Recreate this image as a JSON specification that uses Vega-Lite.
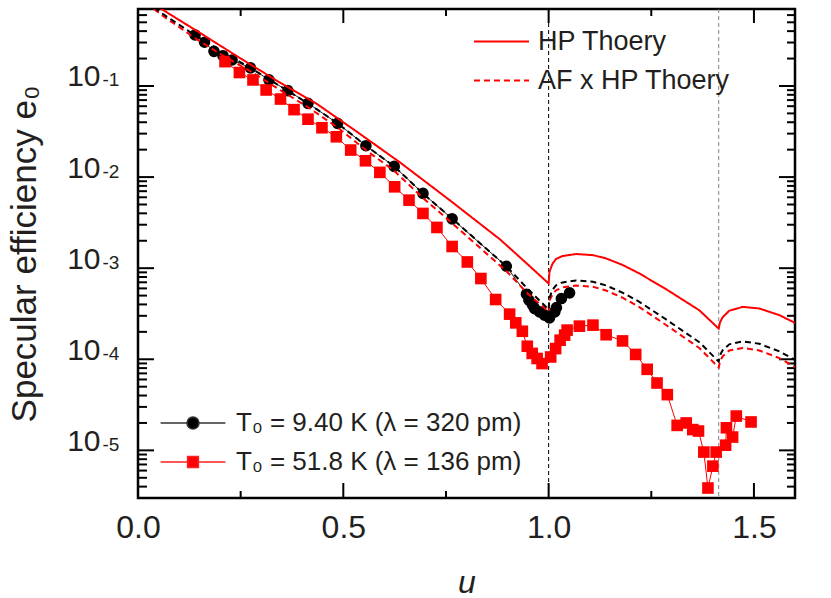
{
  "$schema": "https://vega.github.io/schema/vega-lite/v6.json",
  "width": 657,
  "height": 489,
  "autosize": {"type": "none"},
  "padding": {"left": 138, "top": 9, "right": 36, "bottom": 100},
  "background": "white",
  "config": {
    "view": {"stroke": "black", "strokeWidth": 2.5},
    "axis": {
      "domain": false,
      "grid": false,
      "ticks": false,
      "labelFont": "Liberation Sans",
      "labelColor": "#231f20",
      "titleFont": "Liberation Sans",
      "titleFontWeight": "normal",
      "titleColor": "#231f20"
    },
    "legend": {
      "labelFont": "Liberation Sans",
      "labelColor": "#231f20",
      "labelLimit": 500
    }
  },
  "datasets": {
    "theory": [
      {"u": 0, "e": 1.0, "curve": "HP", "kind": "HP Thoery"},
      {"u": 0.0567, "e": 0.702, "curve": "HP", "kind": "HP Thoery"},
      {"u": 0.15, "e": 0.385, "curve": "HP", "kind": "HP Thoery"},
      {"u": 0.248, "e": 0.203, "curve": "HP", "kind": "HP Thoery"},
      {"u": 0.34, "e": 0.113, "curve": "HP", "kind": "HP Thoery"},
      {"u": 0.438, "e": 0.0625, "curve": "HP", "kind": "HP Thoery"},
      {"u": 0.54, "e": 0.0299, "curve": "HP", "kind": "HP Thoery"},
      {"u": 0.637, "e": 0.0146, "curve": "HP", "kind": "HP Thoery"},
      {"u": 0.759, "e": 0.00558, "curve": "HP", "kind": "HP Thoery"},
      {"u": 0.881, "e": 0.00208, "curve": "HP", "kind": "HP Thoery"},
      {"u": 0.94, "e": 0.0012, "curve": "HP", "kind": "HP Thoery"},
      {"u": 1.0, "e": 0.000679, "curve": "HP", "kind": "HP Thoery"},
      {"u": 1.002, "e": 0.000904, "curve": "HP", "kind": "HP Thoery"},
      {"u": 1.006, "e": 0.00102, "curve": "HP", "kind": "HP Thoery"},
      {"u": 1.01, "e": 0.00113, "curve": "HP", "kind": "HP Thoery"},
      {"u": 1.018, "e": 0.00126, "curve": "HP", "kind": "HP Thoery"},
      {"u": 1.034, "e": 0.00136, "curve": "HP", "kind": "HP Thoery"},
      {"u": 1.067, "e": 0.00143, "curve": "HP", "kind": "HP Thoery"},
      {"u": 1.108, "e": 0.00139, "curve": "HP", "kind": "HP Thoery"},
      {"u": 1.14, "e": 0.00128, "curve": "HP", "kind": "HP Thoery"},
      {"u": 1.181, "e": 0.00108, "curve": "HP", "kind": "HP Thoery"},
      {"u": 1.221, "e": 0.000875, "curve": "HP", "kind": "HP Thoery"},
      {"u": 1.286, "e": 0.000588, "curve": "HP", "kind": "HP Thoery"},
      {"u": 1.367, "e": 0.000345, "curve": "HP", "kind": "HP Thoery"},
      {"u": 1.4142, "e": 0.000217, "curve": "HP", "kind": "HP Thoery"},
      {"u": 1.4174, "e": 0.000255, "curve": "HP", "kind": "HP Thoery"},
      {"u": 1.424, "e": 0.00029, "curve": "HP", "kind": "HP Thoery"},
      {"u": 1.44, "e": 0.000341, "curve": "HP", "kind": "HP Thoery"},
      {"u": 1.473, "e": 0.000376, "curve": "HP", "kind": "HP Thoery"},
      {"u": 1.513, "e": 0.000361, "curve": "HP", "kind": "HP Thoery"},
      {"u": 1.562, "e": 0.000305, "curve": "HP", "kind": "HP Thoery"},
      {"u": 1.6, "e": 0.000251, "curve": "HP", "kind": "HP Thoery"},

      {"u": 0, "e": 0.98, "curve": "AF94", "kind": "AF x HP Thoery"},
      {"u": 0.06, "e": 0.62, "curve": "AF94", "kind": "AF x HP Thoery"},
      {"u": 0.139, "e": 0.36, "curve": "AF94", "kind": "AF x HP Thoery"},
      {"u": 0.2, "e": 0.245, "curve": "AF94", "kind": "AF x HP Thoery"},
      {"u": 0.274, "e": 0.158, "curve": "AF94", "kind": "AF x HP Thoery"},
      {"u": 0.35, "e": 0.097, "curve": "AF94", "kind": "AF x HP Thoery"},
      {"u": 0.414, "e": 0.0645, "curve": "AF94", "kind": "AF x HP Thoery"},
      {"u": 0.486, "e": 0.0389, "curve": "AF94", "kind": "AF x HP Thoery"},
      {"u": 0.555, "e": 0.0221, "curve": "AF94", "kind": "AF x HP Thoery"},
      {"u": 0.624, "e": 0.0131, "curve": "AF94", "kind": "AF x HP Thoery"},
      {"u": 0.694, "e": 0.0066, "curve": "AF94", "kind": "AF x HP Thoery"},
      {"u": 0.765, "e": 0.0035, "curve": "AF94", "kind": "AF x HP Thoery"},
      {"u": 0.83, "e": 0.00193, "curve": "AF94", "kind": "AF x HP Thoery"},
      {"u": 0.897, "e": 0.00105, "curve": "AF94", "kind": "AF x HP Thoery"},
      {"u": 0.95, "e": 0.000587, "curve": "AF94", "kind": "AF x HP Thoery"},
      {"u": 1.0, "e": 0.000352, "curve": "AF94", "kind": "AF x HP Thoery"},
      {"u": 1.002, "e": 0.000468, "curve": "AF94", "kind": "AF x HP Thoery"},
      {"u": 1.006, "e": 0.000528, "curve": "AF94", "kind": "AF x HP Thoery"},
      {"u": 1.01, "e": 0.000583, "curve": "AF94", "kind": "AF x HP Thoery"},
      {"u": 1.018, "e": 0.000649, "curve": "AF94", "kind": "AF x HP Thoery"},
      {"u": 1.034, "e": 0.000698, "curve": "AF94", "kind": "AF x HP Thoery"},
      {"u": 1.067, "e": 0.000733, "curve": "AF94", "kind": "AF x HP Thoery"},
      {"u": 1.108, "e": 0.00071, "curve": "AF94", "kind": "AF x HP Thoery"},
      {"u": 1.14, "e": 0.000646, "curve": "AF94", "kind": "AF x HP Thoery"},
      {"u": 1.181, "e": 0.000536, "curve": "AF94", "kind": "AF x HP Thoery"},
      {"u": 1.221, "e": 0.000427, "curve": "AF94", "kind": "AF x HP Thoery"},
      {"u": 1.286, "e": 0.000274, "curve": "AF94", "kind": "AF x HP Thoery"},
      {"u": 1.367, "e": 0.000154, "curve": "AF94", "kind": "AF x HP Thoery"},
      {"u": 1.4142, "e": 0.0000944, "curve": "AF94", "kind": "AF x HP Thoery"},
      {"u": 1.4174, "e": 0.000111, "curve": "AF94", "kind": "AF x HP Thoery"},
      {"u": 1.424, "e": 0.000126, "curve": "AF94", "kind": "AF x HP Thoery"},
      {"u": 1.44, "e": 0.000146, "curve": "AF94", "kind": "AF x HP Thoery"},
      {"u": 1.473, "e": 0.000157, "curve": "AF94", "kind": "AF x HP Thoery"},
      {"u": 1.513, "e": 0.000148, "curve": "AF94", "kind": "AF x HP Thoery"},
      {"u": 1.562, "e": 0.000122, "curve": "AF94", "kind": "AF x HP Thoery"},
      {"u": 1.6, "e": 0.0000982, "curve": "AF94", "kind": "AF x HP Thoery"},

      {"u": 0, "e": 0.95, "curve": "AF51", "kind": "AF x HP Thoery"},
      {"u": 0.06, "e": 0.59, "curve": "AF51", "kind": "AF x HP Thoery"},
      {"u": 0.139, "e": 0.335, "curve": "AF51", "kind": "AF x HP Thoery"},
      {"u": 0.2, "e": 0.225, "curve": "AF51", "kind": "AF x HP Thoery"},
      {"u": 0.274, "e": 0.145, "curve": "AF51", "kind": "AF x HP Thoery"},
      {"u": 0.35, "e": 0.088, "curve": "AF51", "kind": "AF x HP Thoery"},
      {"u": 0.414, "e": 0.0585, "curve": "AF51", "kind": "AF x HP Thoery"},
      {"u": 0.486, "e": 0.035, "curve": "AF51", "kind": "AF x HP Thoery"},
      {"u": 0.555, "e": 0.0198, "curve": "AF51", "kind": "AF x HP Thoery"},
      {"u": 0.624, "e": 0.0117, "curve": "AF51", "kind": "AF x HP Thoery"},
      {"u": 0.694, "e": 0.0059, "curve": "AF51", "kind": "AF x HP Thoery"},
      {"u": 0.765, "e": 0.00312, "curve": "AF51", "kind": "AF x HP Thoery"},
      {"u": 0.83, "e": 0.00172, "curve": "AF51", "kind": "AF x HP Thoery"},
      {"u": 0.897, "e": 0.00093, "curve": "AF51", "kind": "AF x HP Thoery"},
      {"u": 0.95, "e": 0.00052, "curve": "AF51", "kind": "AF x HP Thoery"},
      {"u": 1.0, "e": 0.000334, "curve": "AF51", "kind": "AF x HP Thoery"},
      {"u": 1.002, "e": 0.000439, "curve": "AF51", "kind": "AF x HP Thoery"},
      {"u": 1.006, "e": 0.000478, "curve": "AF51", "kind": "AF x HP Thoery"},
      {"u": 1.01, "e": 0.000518, "curve": "AF51", "kind": "AF x HP Thoery"},
      {"u": 1.018, "e": 0.000573, "curve": "AF51", "kind": "AF x HP Thoery"},
      {"u": 1.034, "e": 0.000615, "curve": "AF51", "kind": "AF x HP Thoery"},
      {"u": 1.067, "e": 0.000646, "curve": "AF51", "kind": "AF x HP Thoery"},
      {"u": 1.108, "e": 0.000625, "curve": "AF51", "kind": "AF x HP Thoery"},
      {"u": 1.14, "e": 0.000569, "curve": "AF51", "kind": "AF x HP Thoery"},
      {"u": 1.181, "e": 0.000472, "curve": "AF51", "kind": "AF x HP Thoery"},
      {"u": 1.221, "e": 0.000374, "curve": "AF51", "kind": "AF x HP Thoery"},
      {"u": 1.286, "e": 0.000238, "curve": "AF51", "kind": "AF x HP Thoery"},
      {"u": 1.367, "e": 0.000133, "curve": "AF51", "kind": "AF x HP Thoery"},
      {"u": 1.4142, "e": 0.0000811, "curve": "AF51", "kind": "AF x HP Thoery"},
      {"u": 1.4174, "e": 0.0000951, "curve": "AF51", "kind": "AF x HP Thoery"},
      {"u": 1.424, "e": 0.000108, "curve": "AF51", "kind": "AF x HP Thoery"},
      {"u": 1.44, "e": 0.000125, "curve": "AF51", "kind": "AF x HP Thoery"},
      {"u": 1.473, "e": 0.000133, "curve": "AF51", "kind": "AF x HP Thoery"},
      {"u": 1.513, "e": 0.000125, "curve": "AF51", "kind": "AF x HP Thoery"},
      {"u": 1.562, "e": 0.000103, "curve": "AF51", "kind": "AF x HP Thoery"},
      {"u": 1.6, "e": 0.0000822, "curve": "AF51", "kind": "AF x HP Thoery"}
    ],
    "exp": [
      {"u": 0.139, "e": 0.363, "series": "T₀ = 9.40 K (λ = 320 pm)"},
      {"u": 0.162, "e": 0.302, "series": "T₀ = 9.40 K (λ = 320 pm)"},
      {"u": 0.185, "e": 0.240, "series": "T₀ = 9.40 K (λ = 320 pm)"},
      {"u": 0.207, "e": 0.215, "series": "T₀ = 9.40 K (λ = 320 pm)"},
      {"u": 0.229, "e": 0.193, "series": "T₀ = 9.40 K (λ = 320 pm)"},
      {"u": 0.274, "e": 0.158, "series": "T₀ = 9.40 K (λ = 320 pm)"},
      {"u": 0.319, "e": 0.117, "series": "T₀ = 9.40 K (λ = 320 pm)"},
      {"u": 0.365, "e": 0.0888, "series": "T₀ = 9.40 K (λ = 320 pm)"},
      {"u": 0.414, "e": 0.0645, "series": "T₀ = 9.40 K (λ = 320 pm)"},
      {"u": 0.486, "e": 0.0389, "series": "T₀ = 9.40 K (λ = 320 pm)"},
      {"u": 0.555, "e": 0.0221, "series": "T₀ = 9.40 K (λ = 320 pm)"},
      {"u": 0.624, "e": 0.0131, "series": "T₀ = 9.40 K (λ = 320 pm)"},
      {"u": 0.694, "e": 0.00662, "series": "T₀ = 9.40 K (λ = 320 pm)"},
      {"u": 0.765, "e": 0.00348, "series": "T₀ = 9.40 K (λ = 320 pm)"},
      {"u": 0.897, "e": 0.00105, "series": "T₀ = 9.40 K (λ = 320 pm)"},
      {"u": 0.946, "e": 0.000518, "series": "T₀ = 9.40 K (λ = 320 pm)"},
      {"u": 0.952, "e": 0.000445, "series": "T₀ = 9.40 K (λ = 320 pm)"},
      {"u": 0.961, "e": 0.000392, "series": "T₀ = 9.40 K (λ = 320 pm)"},
      {"u": 0.966, "e": 0.00036, "series": "T₀ = 9.40 K (λ = 320 pm)"},
      {"u": 0.978, "e": 0.000331, "series": "T₀ = 9.40 K (λ = 320 pm)"},
      {"u": 0.99, "e": 0.000305, "series": "T₀ = 9.40 K (λ = 320 pm)"},
      {"u": 1.002, "e": 0.000284, "series": "T₀ = 9.40 K (λ = 320 pm)"},
      {"u": 1.015, "e": 0.000331, "series": "T₀ = 9.40 K (λ = 320 pm)"},
      {"u": 1.019, "e": 0.00037, "series": "T₀ = 9.40 K (λ = 320 pm)"},
      {"u": 1.031, "e": 0.000464, "series": "T₀ = 9.40 K (λ = 320 pm)"},
      {"u": 1.051, "e": 0.000536, "series": "T₀ = 9.40 K (λ = 320 pm)"},

      {"u": 0.212, "e": 0.185, "series": "T₀ = 51.8 K (λ = 136 pm)"},
      {"u": 0.247, "e": 0.1406, "series": "T₀ = 51.8 K (λ = 136 pm)"},
      {"u": 0.28, "e": 0.1165, "series": "T₀ = 51.8 K (λ = 136 pm)"},
      {"u": 0.312, "e": 0.0904, "series": "T₀ = 51.8 K (λ = 136 pm)"},
      {"u": 0.347, "e": 0.0719, "series": "T₀ = 51.8 K (λ = 136 pm)"},
      {"u": 0.38, "e": 0.055, "series": "T₀ = 51.8 K (λ = 136 pm)"},
      {"u": 0.414, "e": 0.0432, "series": "T₀ = 51.8 K (λ = 136 pm)"},
      {"u": 0.448, "e": 0.0348, "series": "T₀ = 51.8 K (λ = 136 pm)"},
      {"u": 0.483, "e": 0.0277, "series": "T₀ = 51.8 K (λ = 136 pm)"},
      {"u": 0.518, "e": 0.0198, "series": "T₀ = 51.8 K (λ = 136 pm)"},
      {"u": 0.554, "e": 0.0151, "series": "T₀ = 51.8 K (λ = 136 pm)"},
      {"u": 0.589, "e": 0.01127, "series": "T₀ = 51.8 K (λ = 136 pm)"},
      {"u": 0.625, "e": 0.00782, "series": "T₀ = 51.8 K (λ = 136 pm)"},
      {"u": 0.66, "e": 0.00558, "series": "T₀ = 51.8 K (λ = 136 pm)"},
      {"u": 0.694, "e": 0.00399, "series": "T₀ = 51.8 K (λ = 136 pm)"},
      {"u": 0.728, "e": 0.0028, "series": "T₀ = 51.8 K (λ = 136 pm)"},
      {"u": 0.765, "e": 0.00173, "series": "T₀ = 51.8 K (λ = 136 pm)"},
      {"u": 0.802, "e": 0.00117, "series": "T₀ = 51.8 K (λ = 136 pm)"},
      {"u": 0.835, "e": 0.00077, "series": "T₀ = 51.8 K (λ = 136 pm)"},
      {"u": 0.871, "e": 0.000453, "series": "T₀ = 51.8 K (λ = 136 pm)"},
      {"u": 0.905, "e": 0.000313, "series": "T₀ = 51.8 K (λ = 136 pm)"},
      {"u": 0.92, "e": 0.000251, "series": "T₀ = 51.8 K (λ = 136 pm)"},
      {"u": 0.936, "e": 0.000203, "series": "T₀ = 51.8 K (λ = 136 pm)"},
      {"u": 0.948, "e": 0.000139, "series": "T₀ = 51.8 K (λ = 136 pm)"},
      {"u": 0.96, "e": 0.000116, "series": "T₀ = 51.8 K (λ = 136 pm)"},
      {"u": 0.972, "e": 0.000102, "series": "T₀ = 51.8 K (λ = 136 pm)"},
      {"u": 0.984, "e": 0.0000897, "series": "T₀ = 51.8 K (λ = 136 pm)"},
      {"u": 1.005, "e": 0.000106, "series": "T₀ = 51.8 K (λ = 136 pm)"},
      {"u": 1.017, "e": 0.000131, "series": "T₀ = 51.8 K (λ = 136 pm)"},
      {"u": 1.028, "e": 0.000162, "series": "T₀ = 51.8 K (λ = 136 pm)"},
      {"u": 1.039, "e": 0.000184, "series": "T₀ = 51.8 K (λ = 136 pm)"},
      {"u": 1.045, "e": 0.000209, "series": "T₀ = 51.8 K (λ = 136 pm)"},
      {"u": 1.075, "e": 0.000231, "series": "T₀ = 51.8 K (λ = 136 pm)"},
      {"u": 1.108, "e": 0.000237, "series": "T₀ = 51.8 K (λ = 136 pm)"},
      {"u": 1.14, "e": 0.000186, "series": "T₀ = 51.8 K (λ = 136 pm)"},
      {"u": 1.18, "e": 0.000159, "series": "T₀ = 51.8 K (λ = 136 pm)"},
      {"u": 1.212, "e": 0.000113, "series": "T₀ = 51.8 K (λ = 136 pm)"},
      {"u": 1.24, "e": 0.0000776, "series": "T₀ = 51.8 K (λ = 136 pm)"},
      {"u": 1.264, "e": 0.0000549, "series": "T₀ = 51.8 K (λ = 136 pm)"},
      {"u": 1.289, "e": 0.0000409, "series": "T₀ = 51.8 K (λ = 136 pm)"},
      {"u": 1.313, "e": 0.0000188, "series": "T₀ = 51.8 K (λ = 136 pm)"},
      {"u": 1.335, "e": 0.00002, "series": "T₀ = 51.8 K (λ = 136 pm)"},
      {"u": 1.351, "e": 0.0000169, "series": "T₀ = 51.8 K (λ = 136 pm)"},
      {"u": 1.365, "e": 0.0000163, "series": "T₀ = 51.8 K (λ = 136 pm)"},
      {"u": 1.378, "e": 0.00000958, "series": "T₀ = 51.8 K (λ = 136 pm)"},
      {"u": 1.388, "e": 0.00000386, "series": "T₀ = 51.8 K (λ = 136 pm)"},
      {"u": 1.4, "e": 0.00000671, "series": "T₀ = 51.8 K (λ = 136 pm)"},
      {"u": 1.408, "e": 0.00000958, "series": "T₀ = 51.8 K (λ = 136 pm)"},
      {"u": 1.431, "e": 0.0000114, "series": "T₀ = 51.8 K (λ = 136 pm)"},
      {"u": 1.433, "e": 0.0000177, "series": "T₀ = 51.8 K (λ = 136 pm)"},
      {"u": 1.448, "e": 0.000014, "series": "T₀ = 51.8 K (λ = 136 pm)"},
      {"u": 1.457, "e": 0.0000238, "series": "T₀ = 51.8 K (λ = 136 pm)"},
      {"u": 1.493, "e": 0.0000205, "series": "T₀ = 51.8 K (λ = 136 pm)"}
    ],
    "rules": [
      {"u": 1.0, "line": "u1"},
      {"u": 1.4142, "line": "u2"}
    ],
    "xticks": [
      {"u": 0.25, "t": "minor"},
      {"u": 0.5, "t": "major"},
      {"u": 0.75, "t": "minor"},
      {"u": 1.0, "t": "major"},
      {"u": 1.25, "t": "minor"},
      {"u": 1.5, "t": "major"}
    ],
    "yticks": [
      {"e": 0.00001, "t": "major"}, {"e": 0.0001, "t": "major"}, {"e": 0.001, "t": "major"}, {"e": 0.01, "t": "major"}, {"e": 0.1, "t": "major"},
      {"e": 0.000004, "t": "minor"}, {"e": 0.000005, "t": "minor"}, {"e": 0.000006, "t": "minor"}, {"e": 0.000007, "t": "minor"}, {"e": 0.000008, "t": "minor"}, {"e": 0.000009, "t": "minor"},
      {"e": 0.00002, "t": "minor"}, {"e": 0.00003, "t": "minor"}, {"e": 0.00004, "t": "minor"}, {"e": 0.00005, "t": "minor"}, {"e": 0.00006, "t": "minor"}, {"e": 0.00007, "t": "minor"}, {"e": 0.00008, "t": "minor"}, {"e": 0.00009, "t": "minor"},
      {"e": 0.0002, "t": "minor"}, {"e": 0.0003, "t": "minor"}, {"e": 0.0004, "t": "minor"}, {"e": 0.0005, "t": "minor"}, {"e": 0.0006, "t": "minor"}, {"e": 0.0007, "t": "minor"}, {"e": 0.0008, "t": "minor"}, {"e": 0.0009, "t": "minor"},
      {"e": 0.002, "t": "minor"}, {"e": 0.003, "t": "minor"}, {"e": 0.004, "t": "minor"}, {"e": 0.005, "t": "minor"}, {"e": 0.006, "t": "minor"}, {"e": 0.007, "t": "minor"}, {"e": 0.008, "t": "minor"}, {"e": 0.009, "t": "minor"},
      {"e": 0.02, "t": "minor"}, {"e": 0.03, "t": "minor"}, {"e": 0.04, "t": "minor"}, {"e": 0.05, "t": "minor"}, {"e": 0.06, "t": "minor"}, {"e": 0.07, "t": "minor"}, {"e": 0.08, "t": "minor"}, {"e": 0.09, "t": "minor"},
      {"e": 0.2, "t": "minor"}, {"e": 0.3, "t": "minor"}, {"e": 0.4, "t": "minor"}, {"e": 0.5, "t": "minor"}, {"e": 0.6, "t": "minor"}
    ]
  },
  "resolve": {"axis": {"x": "independent", "y": "independent"}},
  "layer": [
    {
      "data": {"name": "rules"},
      "mark": {"type": "rule", "strokeWidth": 1, "strokeDash": [4, 3]},
      "encoding": {
        "x": {"field": "u", "type": "quantitative", "scale": {"domain": [0, 1.6], "nice": false, "zero": false}, "axis": null},
        "stroke": {"field": "line", "type": "nominal", "scale": {"domain": ["u1", "u2"], "range": ["#000000", "#808080"]}, "legend": null}
      }
    },
    {
      "data": {"name": "xticks"},
      "transform": [{"filter": "datum.t == 'major'"}],
      "mark": {"type": "tick", "orient": "vertical", "size": 15, "thickness": 2, "color": "#000000", "opacity": 1, "yOffset": -7.5},
      "encoding": {
        "x": {"field": "u", "type": "quantitative", "scale": {"domain": [0, 1.6], "nice": false, "zero": false}, "axis": null},
        "y": {"datum": 0.000003, "type": "quantitative", "scale": {"type": "log", "domain": [0.000003, 0.7], "nice": false}, "axis": null}
      }
    },
    {
      "data": {"name": "xticks"},
      "transform": [{"filter": "datum.t == 'minor'"}],
      "mark": {"type": "tick", "orient": "vertical", "size": 7, "thickness": 2, "color": "#000000", "opacity": 1, "yOffset": -3.5},
      "encoding": {
        "x": {"field": "u", "type": "quantitative", "scale": {"domain": [0, 1.6], "nice": false, "zero": false}, "axis": null},
        "y": {"datum": 0.000003, "type": "quantitative", "scale": {"type": "log", "domain": [0.000003, 0.7], "nice": false}, "axis": null}
      }
    },
    {
      "data": {"name": "xticks"},
      "transform": [{"filter": "datum.t == 'major'"}],
      "mark": {"type": "tick", "orient": "vertical", "size": 14, "thickness": 2, "color": "#000000", "opacity": 1, "yOffset": 7},
      "encoding": {
        "x": {"field": "u", "type": "quantitative", "scale": {"domain": [0, 1.6], "nice": false, "zero": false}, "axis": null},
        "y": {"datum": 0.7, "type": "quantitative", "scale": {"type": "log", "domain": [0.000003, 0.7], "nice": false}, "axis": null}
      }
    },
    {
      "data": {"name": "xticks"},
      "transform": [{"filter": "datum.t == 'minor'"}],
      "mark": {"type": "tick", "orient": "vertical", "size": 7, "thickness": 2, "color": "#000000", "opacity": 1, "yOffset": 3.5},
      "encoding": {
        "x": {"field": "u", "type": "quantitative", "scale": {"domain": [0, 1.6], "nice": false, "zero": false}, "axis": null},
        "y": {"datum": 0.7, "type": "quantitative", "scale": {"type": "log", "domain": [0.000003, 0.7], "nice": false}, "axis": null}
      }
    },
    {
      "data": {"name": "yticks"},
      "transform": [{"filter": "datum.t == 'major'"}],
      "mark": {"type": "tick", "orient": "horizontal", "size": 16, "thickness": 2, "color": "#000000", "opacity": 1, "xOffset": 8},
      "encoding": {
        "x": {"datum": 0, "type": "quantitative", "scale": {"domain": [0, 1.6], "nice": false, "zero": false}, "axis": null},
        "y": {"field": "e", "type": "quantitative", "scale": {"type": "log", "domain": [0.000003, 0.7], "nice": false}, "axis": null}
      }
    },
    {
      "data": {"name": "yticks"},
      "transform": [{"filter": "datum.t == 'minor'"}],
      "mark": {"type": "tick", "orient": "horizontal", "size": 9, "thickness": 2, "color": "#000000", "opacity": 1, "xOffset": 4.5},
      "encoding": {
        "x": {"datum": 0, "type": "quantitative", "scale": {"domain": [0, 1.6], "nice": false, "zero": false}, "axis": null},
        "y": {"field": "e", "type": "quantitative", "scale": {"type": "log", "domain": [0.000003, 0.7], "nice": false}, "axis": null}
      }
    },
    {
      "data": {"name": "yticks"},
      "transform": [{"filter": "datum.t == 'major'"}],
      "mark": {"type": "tick", "orient": "horizontal", "size": 16, "thickness": 2, "color": "#000000", "opacity": 1, "xOffset": -8},
      "encoding": {
        "x": {"datum": 1.6, "type": "quantitative", "scale": {"domain": [0, 1.6], "nice": false, "zero": false}, "axis": null},
        "y": {"field": "e", "type": "quantitative", "scale": {"type": "log", "domain": [0.000003, 0.7], "nice": false}, "axis": null}
      }
    },
    {
      "data": {"name": "yticks"},
      "transform": [{"filter": "datum.t == 'minor'"}],
      "mark": {"type": "tick", "orient": "horizontal", "size": 8, "thickness": 2, "color": "#000000", "opacity": 1, "xOffset": -4},
      "encoding": {
        "x": {"datum": 1.6, "type": "quantitative", "scale": {"domain": [0, 1.6], "nice": false, "zero": false}, "axis": null},
        "y": {"field": "e", "type": "quantitative", "scale": {"type": "log", "domain": [0.000003, 0.7], "nice": false}, "axis": null}
      }
    },
    {
      "data": {"name": "exp"},
      "transform": [{"filter": "indexof(datum.series, '9.40') >= 0"}],
      "mark": {"type": "line", "color": "#222222", "strokeWidth": 1},
      "encoding": {
        "x": {"field": "u", "type": "quantitative", "scale": {"domain": [0, 1.6], "nice": false, "zero": false}, "axis": null},
        "y": {"field": "e", "type": "quantitative", "scale": {"type": "log", "domain": [0.000003, 0.7], "nice": false}, "axis": null}
      }
    },
    {
      "data": {"name": "exp"},
      "transform": [{"filter": "indexof(datum.series, '51.8') >= 0"}],
      "mark": {"type": "line", "color": "#ff0000", "strokeWidth": 1},
      "encoding": {
        "x": {"field": "u", "type": "quantitative", "scale": {"domain": [0, 1.6], "nice": false, "zero": false}, "axis": null},
        "y": {"field": "e", "type": "quantitative", "scale": {"type": "log", "domain": [0.000003, 0.7], "nice": false}, "axis": null}
      }
    },
    {
      "data": {"name": "exp"},
      "transform": [{"filter": "indexof(datum.series, '9.40') >= 0"}],
      "mark": {"type": "point", "filled": true, "opacity": 1, "size": 135, "shape": "circle"},
      "encoding": {
        "x": {"field": "u", "type": "quantitative", "scale": {"domain": [0, 1.6], "nice": false, "zero": false}, "axis": null},
        "y": {"field": "e", "type": "quantitative", "scale": {"type": "log", "domain": [0.000003, 0.7], "nice": false}, "axis": null},
        "color": {"field": "series", "type": "nominal",
                  "scale": {"domain": ["T₀ = 9.40 K (λ = 320 pm)"], "range": ["#000000"]},
                  "legend": {
                    "orient": "none", "legendX": 42, "legendY": 401, "title": null, "padding": 0,
                    "symbolType": "M-2.7,0H-0.5M0.5,0H2.7M-0.5,0A0.5,0.5,0,1,1,0.5,0A0.5,0.5,0,1,1,-0.5,0Z",
                    "symbolSize": 576, "symbolStrokeColor": "#333333", "symbolStrokeWidth": 1.5, "symbolOpacity": 1,
                    "labelFontSize": 26, "labelOffset": 30
                  }}
      }
    },
    {
      "data": {"name": "exp"},
      "transform": [{"filter": "indexof(datum.series, '51.8') >= 0"}],
      "mark": {"type": "point", "filled": true, "opacity": 1, "size": 135, "shape": "square"},
      "encoding": {
        "x": {"field": "u", "type": "quantitative", "scale": {"domain": [0, 1.6], "nice": false, "zero": false}, "axis": null},
        "y": {"field": "e", "type": "quantitative", "scale": {"type": "log", "domain": [0.000003, 0.7], "nice": false}, "axis": null},
        "fill": {"field": "series", "type": "nominal",
                 "scale": {"domain": ["T₀ = 51.8 K (λ = 136 pm)"], "range": ["#ff0000"]},
                 "legend": {
                   "orient": "none", "legendX": 42, "legendY": 440, "title": null, "padding": 0,
                   "symbolType": "M-2.7,0H-0.45M0.45,0H2.7M-0.45,-0.45H0.45V0.45H-0.45Z",
                   "symbolSize": 576, "symbolStrokeColor": "#ff2020", "symbolStrokeWidth": 1.5, "symbolOpacity": 1,
                   "labelFontSize": 26, "labelOffset": 30
                 }}
      }
    },
    {
      "data": {"name": "theory"},
      "transform": [{"filter": "datum.curve == 'HP'"}],
      "mark": {"type": "line", "color": "#ff0000", "strokeWidth": 2, "clip": true},
      "encoding": {
        "x": {"field": "u", "type": "quantitative", "scale": {"domain": [0, 1.6], "nice": false, "zero": false},
              "axis": {"orient": "bottom", "values": [0, 0.5, 1, 1.5], "format": ".1f", "ticks": false, "labelPadding": 14,
                       "labelFontSize": 32, "labelFlush": false, "title": "u", "titleFontStyle": "italic", "titleFontSize": 32, "titlePadding": 24}},
        "y": {"field": "e", "type": "quantitative", "scale": {"type": "log", "domain": [0.000003, 0.7], "nice": false},
              "axis": {"orient": "left", "values": [0.00001, 0.0001, 0.001, 0.01, 0.1], "labelExpr": "'10'", "ticks": false,
                       "labelPadding": 38, "labelFontSize": 30, "labelBaseline": "alphabetic", "labelDy": 14,
                       "title": "Specular efficiency e₀", "titleFontSize": 35, "titlePadding": 24}},
        "strokeDash": {"field": "kind", "type": "nominal",
                       "scale": {"domain": ["HP Thoery", "AF x HP Thoery"], "range": [[1, 0], [6, 4]]},
                       "legend": {"orient": "none", "legendX": 350, "legendY": 19, "title": null, "padding": 0,
                                  "symbolType": "M-2.5,0H2.5", "symbolSize": 484, "symbolStrokeWidth": 2, "symbolStrokeColor": "#ff0000",
                                  "labelFontSize": 27, "labelOffset": 23, "rowPadding": 11}}
      }
    },
    {
      "data": {"name": "theory"},
      "transform": [{"filter": "datum.curve == 'AF51'"}],
      "mark": {"type": "line", "color": "#ff0000", "strokeWidth": 2, "clip": true},
      "encoding": {
        "x": {"field": "u", "type": "quantitative", "scale": {"domain": [0, 1.6], "nice": false, "zero": false}, "axis": null},
        "y": {"field": "e", "type": "quantitative", "scale": {"type": "log", "domain": [0.000003, 0.7], "nice": false},
              "axis": {"orient": "left", "values": [0.00001, 0.0001, 0.001, 0.01, 0.1],
                       "labelExpr": "'' + round(log(datum.value) / LN10)", "ticks": false, "labelPadding": 36,
                       "labelAlign": "left", "labelBaseline": "alphabetic", "labelDy": 5, "labelFontSize": 19, "title": null}},
        "strokeDash": {"field": "kind", "type": "nominal",
                       "scale": {"domain": ["HP Thoery", "AF x HP Thoery"], "range": [[1, 0], [6, 4]]},
                       "legend": {"orient": "none", "legendX": 350, "legendY": 19, "title": null, "padding": 0,
                                  "symbolType": "M-2.5,0H2.5", "symbolSize": 484, "symbolStrokeWidth": 2, "symbolStrokeColor": "#ff0000",
                                  "labelFontSize": 27, "labelOffset": 23, "rowPadding": 11}}
      }
    },
    {
      "data": {"name": "theory"},
      "transform": [{"filter": "datum.curve == 'AF94'"}],
      "mark": {"type": "line", "color": "#000000", "strokeWidth": 2, "clip": true},
      "encoding": {
        "x": {"field": "u", "type": "quantitative", "scale": {"domain": [0, 1.6], "nice": false, "zero": false}, "axis": null},
        "y": {"field": "e", "type": "quantitative", "scale": {"type": "log", "domain": [0.000003, 0.7], "nice": false}, "axis": null},
        "strokeDash": {"field": "kind", "type": "nominal",
                       "scale": {"domain": ["HP Thoery", "AF x HP Thoery"], "range": [[1, 0], [6, 4]]},
                       "legend": {"orient": "none", "legendX": 350, "legendY": 19, "title": null, "padding": 0,
                                  "symbolType": "M-2.5,0H2.5", "symbolSize": 484, "symbolStrokeWidth": 2, "symbolStrokeColor": "#ff0000",
                                  "labelFontSize": 27, "labelOffset": 23, "rowPadding": 11}}
      }
    }
  ]
}
